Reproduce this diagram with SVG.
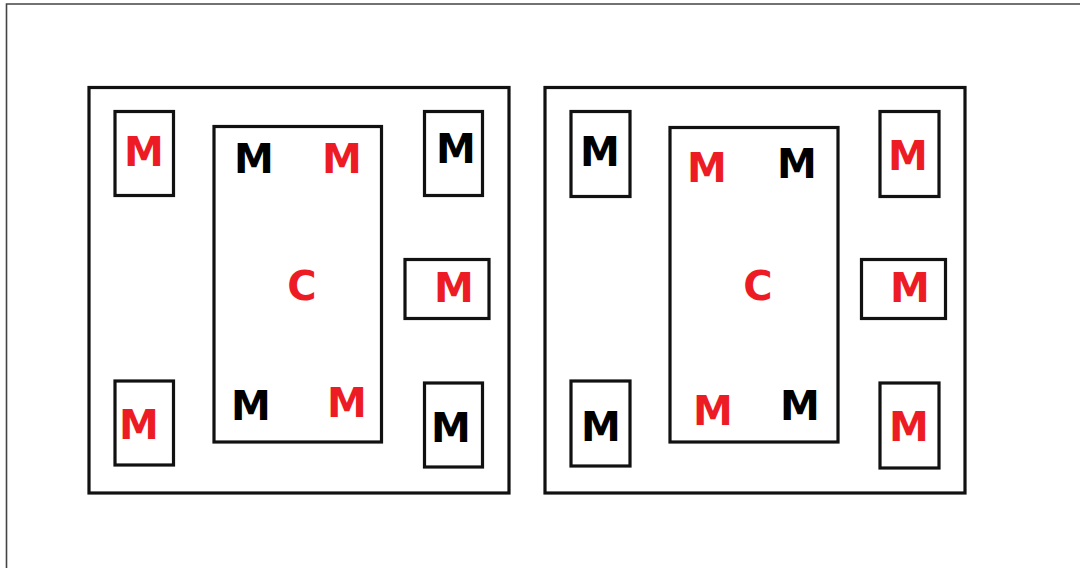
<svg xmlns="http://www.w3.org/2000/svg" width="1080" height="568" viewBox="0 0 1080 568">
<style>
.bx{fill:none;stroke:#111;stroke-width:3.2}
.fr{fill:none;stroke:#444;stroke-width:1.6}
text{font-family:"DejaVu Sans","Liberation Sans",sans-serif;font-weight:bold;font-size:40px;text-anchor:middle}
.r{fill:#ed1c24}
.k{fill:#000}
</style>
<rect width="1080" height="568" fill="#fff"/>
<path class="fr" d="M6.5,568 V4 H1080"/>
<g id="left-panel">
<rect id="left-outer" class="bx" x="89" y="87.5" width="420" height="405.5"/>
<g id="l-tl"><rect class="bx" x="115" y="111.5" width="58.5" height="84"/><text class="r" x="144" y="166">M</text></g>
<g id="l-inner"><rect class="bx" x="214" y="126.5" width="167.5" height="315.5"/>
<text class="k" x="254" y="173" font-size="38">M</text>
<text class="r" x="342" y="173">M</text>
<text class="r" x="302" y="300" font-size="37">C</text>
<text class="k" x="251" y="420">M</text>
<text class="r" x="347" y="417">M</text></g>
<g id="l-tr"><rect class="bx" x="424.5" y="111.5" width="58" height="84"/><text class="k" x="456" y="163" font-size="37">M</text></g>
<g id="l-mr"><rect class="bx" x="405" y="259.5" width="84" height="59"/><text class="r" x="454" y="302">M</text></g>
<g id="l-bl"><rect class="bx" x="115" y="381" width="58.5" height="84"/><text class="r" x="139" y="439">M</text></g>
<g id="l-br"><rect class="bx" x="424.5" y="383" width="58" height="84"/><text class="k" x="451" y="442" font-size="41">M</text></g>
</g>
<g id="right-panel">
<rect id="right-outer" class="bx" x="545" y="87.5" width="420" height="405.5"/>
<g id="r-tl"><rect class="bx" x="571" y="111.5" width="59" height="85"/><text class="k" x="600" y="166">M</text></g>
<g id="r-inner"><rect class="bx" x="670" y="127.5" width="168" height="314.5"/>
<text class="r" x="707" y="182" font-size="41">M</text>
<text class="k" x="797" y="178">M</text>
<text class="r" x="758" y="300" font-size="37">C</text>
<text class="r" x="713" y="425">M</text>
<text class="k" x="800" y="420">M</text></g>
<g id="r-tr"><rect class="bx" x="880" y="111.5" width="59" height="85"/><text class="r" x="908" y="170">M</text></g>
<g id="r-mr"><rect class="bx" x="861.5" y="259.5" width="84" height="59"/><text class="r" x="910" y="302">M</text></g>
<g id="r-bl"><rect class="bx" x="571" y="381" width="59" height="85"/><text class="k" x="601" y="441">M</text></g>
<g id="r-br"><rect class="bx" x="880" y="383" width="59" height="85"/><text class="r" x="909" y="441">M</text></g>
</g>
</svg>
